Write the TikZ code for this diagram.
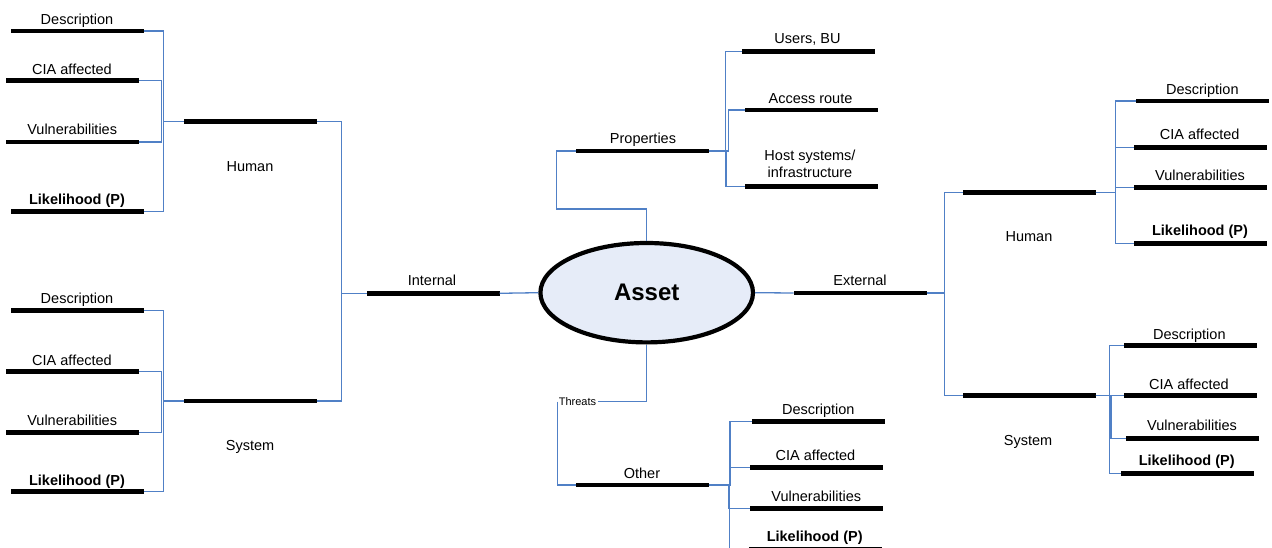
\documentclass[tikz,border=0pt]{standalone}
\usepackage{fontspec}
\setmainfont{Liberation Sans}
\usetikzlibrary{shapes.geometric}
\definecolor{linkblue}{RGB}{80,128,198}
\definecolor{assetfill}{RGB}{230,236,248}
\tikzset{
  barbox/.style={rectangle, fill=black, draw=none, minimum width=133pt,
    minimum height=4.5pt, inner sep=0pt, outer sep=0pt},
  lbl/.style={anchor=base, inner sep=0pt, font=\fontsize{14.5}{17}\selectfont},
  blbl/.style={lbl, font=\fontsize{14.5}{17}\selectfont\bfseries},
  conn/.style={draw=linkblue, line width=1.3pt},
}
\begin{document}
\begin{tikzpicture}[x=1pt, y=-1pt]
\useasboundingbox (0,0) rectangle (1272,548);
\clip (0,0) rectangle (1272,548);

% ---- central asset ----
\node[ellipse, draw=black, line width=4.2pt, fill=assetfill, inner sep=0pt,
  minimum width=212.6pt, minimum height=99.4pt,
  font=\fontsize{24}{28}\selectfont\bfseries] (asset) at (646.7,292.7) {Asset};

% ---- internal branch ----
\node[barbox] (int) at (433,293.3) {};
\node[lbl] (int-t) at (432,285.5) {Internal};

% internal / human
\node[barbox] (lh) at (250.7,121.7) {};
\node[lbl] (lh-t) at (250,171.7) {Human};
\node[barbox] (lhd) at (77.3,31) {};
\node[lbl] (lhd-t) at (77,24.5) {Description};
\node[barbox] (lhc) at (72.7,80.7) {};
\node[lbl] (lhc-t) at (72,75) {CIA affected};
\node[barbox] (lhv) at (72.7,142) {};
\node[lbl] (lhv-t) at (72.2,134.5) {Vulnerabilities};
\node[barbox] (lhp) at (77.3,211.7) {};
\node[blbl] (lhp-t) at (77,204.5) {Likelihood (P)};

% internal / system
\node[barbox] (ls) at (250.7,401) {};
\node[lbl] (ls-t) at (250,450) {System};
\node[barbox] (lsd) at (77.3,310.7) {};
\node[lbl] (lsd-t) at (77,303.5) {Description};
\node[barbox] (lsc) at (72.7,371.3) {};
\node[lbl] (lsc-t) at (72,365) {CIA affected};
\node[barbox] (lsv) at (72.7,432.7) {};
\node[lbl] (lsv-t) at (72.2,425.7) {Vulnerabilities};
\node[barbox] (lsp) at (77.3,491.7) {};
\node[blbl] (lsp-t) at (77,485) {Likelihood (P)};

% ---- properties branch ----
\node[barbox] (pr) at (642.7,151) {};
\node[lbl] (pr-t) at (643,144) {Properties};
\node[barbox] (pu) at (808.3,51.7) {};
\node[lbl] (pu-t) at (807.5,43.5) {Users, BU};
\node[barbox] (pa) at (811,110) {};
\node[lbl] (pa-t) at (810.5,103.3) {Access route};
\node[barbox] (ph) at (811.7,186.7) {};
\node[lbl, align=center, anchor=south] (ph-t) at (810,177.5) {Host systems/\\infrastructure};

% ---- threats / other branch ----
\node[inner sep=1.5pt, font=\fontsize{11}{13}\selectfont] (thr) at (577.5,401.7) {Threats};
\node[barbox] (ot) at (642.7,485) {};
\node[lbl] (ot-t) at (642,478) {Other};
\node[barbox] (od) at (818.5,421.7) {};
\node[lbl] (od-t) at (818.3,414.3) {Description};
\node[barbox] (oc) at (816.8,467.7) {};
\node[lbl] (oc-t) at (815.5,460.7) {CIA affected};
\node[barbox] (ov) at (816.8,508.3) {};
\node[lbl] (ov-t) at (816.3,501.7) {Vulnerabilities};
\node[barbox] (op) at (815,549.5) {};
\node[blbl] (op-t) at (814.7,541) {Likelihood (P)};

% ---- external branch ----
\node[barbox] (ext) at (860,293) {};
\node[lbl] (ext-t) at (860,285.7) {External};

% external / human
\node[barbox] (eh) at (1029,192.3) {};
\node[lbl] (eh-t) at (1029,241.7) {Human};
\node[barbox] (ehd) at (1202.7,101) {};
\node[lbl] (ehd-t) at (1202.3,95) {Description};
\node[barbox] (ehc) at (1200.7,147.3) {};
\node[lbl] (ehc-t) at (1199.7,140) {CIA affected};
\node[barbox] (ehv) at (1200.7,187.7) {};
\node[lbl] (ehv-t) at (1200,180.7) {Vulnerabilities};
\node[barbox] (ehp) at (1200.7,243.3) {};
\node[blbl] (ehp-t) at (1200,236) {Likelihood (P)};

% external / system
\node[barbox] (es) at (1029,395.7) {};
\node[lbl] (es-t) at (1028,445.7) {System};
\node[barbox] (esd) at (1190,345.7) {};
\node[lbl] (esd-t) at (1189.3,339) {Description};
\node[barbox] (esc) at (1190,395.7) {};
\node[lbl] (esc-t) at (1189,389) {CIA affected};
\node[barbox] (esv) at (1192.7,438.3) {};
\node[lbl] (esv-t) at (1192,430.7) {Vulnerabilities};
\node[barbox] (esp) at (1187.3,473.3) {};
\node[blbl] (esp-t) at (1186.7,465) {Likelihood (P)};

% ---- connectors ----
% internal side
\draw[conn] (int.east) -- (asset.west);
\draw[conn] (lh.east) -| ([xshift=-25pt]int.west) -- (int.west);
\draw[conn] (ls.east) -| ([xshift=-25pt]int.west);
\draw[conn] (lhd.east) -| ([xshift=-20.7pt]lh.west) -- (lh.west);
\draw[conn] (lhp.east) -| ([xshift=-20.7pt]lh.west);
\draw[conn] (lhc.east) -| ([xshift=-22.7pt]lh.west);
\draw[conn] (lhv.east) -| ([xshift=-22.7pt]lh.west);
\draw[conn] (lsd.east) -| ([xshift=-20.7pt]ls.west) -- (ls.west);
\draw[conn] (lsp.east) -| ([xshift=-20.7pt]ls.west);
\draw[conn] (lsc.east) -| ([xshift=-22.7pt]ls.west);
\draw[conn] (lsv.east) -| ([xshift=-22.7pt]ls.west);

% properties
\draw[conn] (asset.north) -- ++(0,-32) -| ([xshift=-20pt]pr.west) -- (pr.west);
\draw[conn] (pr.east) -| ([xshift=-16pt]pu.west) -- (pu.west);
\draw[conn] (pr.east) -| ([xshift=-16pt]pa.west) -- (pa.west);
\draw[conn] (pr.east) -| ([xshift=-19.3pt]ph.west) -- (ph.west);

% threats
\draw[conn] (asset.south) |- (thr.east);
\draw[conn] (thr.west) |- (ot.west);
\draw[conn] (ot.east) -| ([xshift=-22pt]od.west) -- (od.west);
\draw[conn] (ot.east) -| ([xshift=-20.7pt]oc.west) -- (oc.west);
\draw[conn] (ot.east) -| ([xshift=-21.7pt]ov.west) -- (ov.west);
\draw[conn] (ot.east) -| ([xshift=-19pt]op.west) -- (op.west);

% external side
\draw[conn] (asset.east) -- (ext.west);
\draw[conn] (ext.east) -| ([xshift=-18.3pt]eh.west) -- (eh.west);
\draw[conn] (ext.east) -| ([xshift=-18.3pt]es.west) -- (es.west);
\draw[conn] (eh.east) -| ([xshift=-21pt]ehd.west) -- (ehd.west);
\draw[conn] (eh.east) -| ([xshift=-19pt]ehc.west) -- (ehc.west);
\draw[conn] (eh.east) -| ([xshift=-19pt]ehv.west) -- (ehv.west);
\draw[conn] (eh.east) -| ([xshift=-19pt]ehp.west) -- (ehp.west);
\draw[conn] (es.east) -| ([xshift=-14pt]esd.west) -- (esd.west);
\draw[conn] (es.east) -- (esc.west);
\draw[conn] (es.east) -| ([xshift=-15.3pt]esv.west) -- (esv.west);
\draw[conn] (es.east) -| ([xshift=-11.4pt]esp.west) -- (esp.west);
\end{tikzpicture}
\end{document}
